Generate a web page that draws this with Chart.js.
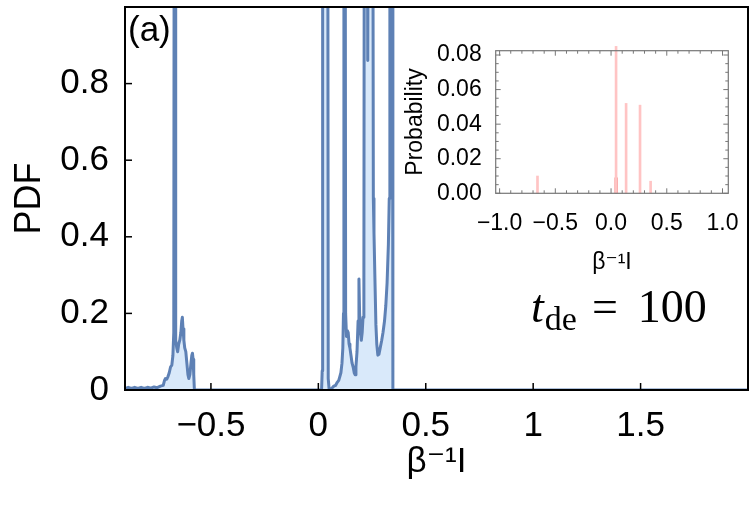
<!DOCTYPE html>
<html>
<head>
<meta charset="utf-8">
<script src="https://cdn.jsdelivr.net/npm/chart.js@4.4.1/dist/chart.umd.min.js"></script>
<style>
  html, body { margin:0; padding:0; background:#fff; }
  #wrap { position:relative; width:750px; height:521px; overflow:hidden; background:#fff; }
  #main { position:absolute; left:0; top:0; width:750px; height:521px; }
  #inset { position:absolute; left:400px; top:30px; width:345px; height:260px; }
  .txt { position:absolute; white-space:nowrap; color:#000; }
</style>
</head>
<body>
<div id="wrap">
  <div id="main"><canvas id="c1"></canvas></div>
  <div id="inset"><canvas id="c2"></canvas></div>
  <div class="txt" style="left:128px; top:11px; font:35px 'Liberation Sans', Arial, sans-serif; line-height:35px;">(a)</div>
  <div class="txt" style="left:531px; top:284px; font:46px 'Liberation Serif', 'Times New Roman', serif; line-height:46px;"><i>t</i><span style="font-size:34px; position:relative; top:8px; margin-left:1px;">de</span><span style="margin-left:15px;">=</span><span style="margin-left:20px;">100</span></div>
</div>
<script>
// ---------- main PDF curve ----------
const pdfX = [
  -0.900, -0.885, -0.870, -0.855, -0.840, -0.825, -0.810, -0.795, -0.780, -0.765, -0.750, -0.735,
  -0.722, -0.716, -0.712, -0.706, -0.700, -0.694, -0.688, -0.682, -0.677, -0.673, -0.670, -0.667,
  -0.664, -0.659, -0.655, -0.650, -0.645, -0.640, -0.636, -0.633, -0.630, -0.626, -0.622, -0.617,
  -0.612, -0.607, -0.603, -0.598, -0.593, -0.589, -0.586, -0.583, -0.580, -0.577,
  -0.500, -0.300, 0.000, 0.015,
  0.018, 0.020, 0.043, 0.046, 0.050, 0.058, 0.065, 0.072, 0.080, 0.088, 0.095, 0.100, 0.105, 0.110,
  0.114, 0.117, 0.119, 0.124, 0.127, 0.131, 0.135, 0.139, 0.143, 0.147, 0.152, 0.157, 0.162, 0.167,
  0.171, 0.175, 0.180, 0.185, 0.189, 0.192, 0.196, 0.200, 0.204, 0.208, 0.212, 0.215, 0.226, 0.230,
  0.234, 0.252, 0.256, 0.259, 0.263, 0.268, 0.272, 0.277, 0.282, 0.288, 0.295, 0.301, 0.308, 0.314,
  0.320, 0.326, 0.330, 0.333, 0.344, 0.347,
  0.600, 1.000, 1.500, 2.000
];
const pdfY = [
  0.004, 0.007, 0.004, 0.007, 0.004, 0.007, 0.004, 0.007, 0.005, 0.008, 0.006, 0.010,
  0.012, 0.025, 0.030, 0.028, 0.035, 0.045, 0.060, 0.065, 0.090, 0.150, 2.000, 2.000,
  0.130, 0.110, 0.100, 0.120, 0.130, 0.150, 0.180, 0.190, 0.160, 0.130, 0.110, 0.100,
  0.070, 0.040, 0.030, 0.040, 0.070, 0.090, 0.096, 0.080, 0.040, 0.000,
  0.000, 0.000, 0.000, 0.000,
  0.050, 2.000, 2.000, 0.030, 0.003, 0.002, 0.006, 0.010, 0.012, 0.020, 0.025, 0.035, 0.045, 0.070,
  0.110, 0.200, 2.000, 2.000, 0.200, 0.140, 0.155, 0.150, 0.120, 0.110, 0.090, 0.070, 0.060, 0.045,
  0.040, 0.060, 0.100, 0.180, 0.290, 0.200, 0.150, 0.130, 0.150, 0.190, 0.300, 2.000, 2.000, 0.860,
  2.000, 2.000, 0.500, 0.410, 0.300, 0.170, 0.120, 0.091, 0.093, 0.110, 0.130, 0.150, 0.180, 0.220,
  0.280, 0.380, 0.500, 2.000, 2.000, 0.000,
  0.000, 0.000, 0.000, 0.000
];
const xTickVals = [-0.5, 0, 0.5, 1, 1.5];
const xTickLabels = ['\u22120.5', '0', '0.5', '1', '1.5'];
const yTickVals = [0, 0.2, 0.4, 0.6, 0.8];
const yTickLabels = ['0', '0.2', '0.4', '0.6', '0.8'];

// ---------- inset probability histogram ----------
const probX = [-0.66, 0.045, 0.135, 0.26, 0.355];
const probY = [0.010, 0.085, 0.052, 0.051, 0.007];
const probDarkX = [0.045];
const probDarkY = [0.009];
const insetXTickVals = [-1, -0.5, 0, 0.5, 1];
const insetXTickLabels = ['\u22121.0', '\u22120.5', '0.0', '0.5', '1.0'];
const insetYTickVals = [0, 0.02, 0.04, 0.06, 0.08];
const insetYTickLabels = ['0.00', '0.02', '0.04', '0.06', '0.08'];

const frameTicks = {
  id: 'frameTicks',
  afterDatasetsDraw(chart, args, o) {
    const { ctx, chartArea: a } = chart;
    const sx = chart.scales.x, sy = chart.scales.y;
    ctx.save();
    ctx.strokeStyle = o.color;
    ctx.lineCap = 'butt';
    const seg = (x1, y1, x2, y2) => { ctx.beginPath(); ctx.moveTo(x1, y1); ctx.lineTo(x2, y2); ctx.stroke(); };
    const drawX = (vals, len) => vals.forEach(v => {
      const px = sx.getPixelForValue(v);
      if (px < a.left - 0.5 || px > a.right + 0.5) return;
      seg(px, a.bottom, px, a.bottom - len);
      if (o.mirror) seg(px, a.top, px, a.top + len);
    });
    const drawY = (vals, len) => vals.forEach(v => {
      const py = sy.getPixelForValue(v);
      if (py < a.top - 0.5 || py > a.bottom + 0.5) return;
      seg(a.left, py, a.left + len, py);
      if (o.mirror) seg(a.right, py, a.right - len, py);
    });
    ctx.lineWidth = o.tickWidth;
    drawX(o.xMajor, o.major);
    drawY(o.yMajor, o.major);
    if (o.xMinor) drawX(o.xMinor, o.minor);
    if (o.yMinor) drawY(o.yMinor, o.minor);
    ctx.lineWidth = o.frameWidth;
    ctx.strokeRect(a.left, a.top, a.right - a.left, a.bottom - a.top);
    ctx.restore();
  }
};

const sans = "'Liberation Sans', Arial, 'DejaVu Sans', sans-serif";
const noPad = s => { s.paddingTop = 0; s.paddingBottom = 0; s.paddingLeft = 0; s.paddingRight = 0; };

new Chart(document.getElementById('c1'), {
  type: 'line',
  data: {
    datasets: [{
      data: pdfX.map((x, i) => ({ x: x, y: pdfY[i] })),
      borderColor: 'rgb(94,129,181)',
      backgroundColor: 'rgb(217,233,250)',
      borderWidth: 3,
      borderJoinStyle: 'round',
      pointRadius: 0,
      tension: 0,
      fill: 'origin'
    }]
  },
  plugins: [frameTicks],
  options: {
    responsive: true,
    maintainAspectRatio: false,
    animation: false,
    devicePixelRatio: 1,
    layout: { padding: { top: 7, right: 2, left: 0, bottom: 0 } },
    plugins: {
      legend: { display: false },
      tooltip: { enabled: false },
      frameTicks: {
        color: '#000', tickWidth: 1.5, frameWidth: 2, major: 7, minor: 4, mirror: false,
        xMajor: xTickVals, yMajor: yTickVals
      }
    },
    scales: {
      x: {
        type: 'linear', min: -0.9, max: 2.0,
        afterBuildTicks: s => { s.ticks = xTickVals.map(v => ({ value: v })); },
        afterFit: s => { s.height = 131; noPad(s); },
        grid: { display: false },
        border: { display: false },
        ticks: {
          padding: 7, color: '#000', maxRotation: 0, autoSkip: false,
          font: { family: sans, size: 35 },
          callback: (v, i) => xTickLabels[i]
        },
        title: {
          display: true, text: '\u03b2\u207b\u00b9I', color: '#000',
          font: { family: sans, size: 35 }, padding: { top: 0, bottom: 38 }
        }
      },
      y: {
        type: 'linear', min: 0, max: 1.0,
        afterBuildTicks: s => { s.ticks = yTickVals.map(v => ({ value: v })); },
        afterFit: s => { s.width = 125; noPad(s); },
        grid: { display: false },
        border: { display: false },
        ticks: {
          padding: 8, color: '#000', autoSkip: false,
          font: { family: sans, size: 35 },
          callback: (v, i) => yTickLabels[i]
        },
        title: {
          display: true, text: 'PDF', color: '#000',
          font: { family: sans, size: 36 }, padding: { top: 8, bottom: 0 }
        }
      }
    }
  }
});

const minorX = [];
for (let k = -10; k <= 10; k++) { if (k % 5 !== 0) minorX.push(k / 10); }
const minorY = [];
for (let k = 0; k <= 16; k++) { if (k % 4 !== 0) minorY.push(k * 0.005); }

new Chart(document.getElementById('c2'), {
  type: 'bar',
  data: {
    datasets: [{
      data: probX.map((x, i) => ({ x: x, y: probY[i] })),
      backgroundColor: 'rgb(255,196,196)',
      borderWidth: 0,
      barThickness: 2,
      grouped: false,
      clip: false
    }, {
      data: probDarkX.map((x, i) => ({ x: x, y: probDarkY[i] })),
      backgroundColor: 'rgb(235,20,20)',
      borderWidth: 0,
      barThickness: 2,
      grouped: false
    }]
  },
  plugins: [frameTicks],
  options: {
    responsive: true,
    maintainAspectRatio: false,
    animation: false,
    devicePixelRatio: 1,
    layout: { padding: { top: 20.7, right: 16.7, left: 0, bottom: 0 } },
    plugins: {
      legend: { display: false },
      tooltip: { enabled: false },
      frameTicks: {
        color: '#777', tickWidth: 1, frameWidth: 1.2, major: 5, minor: 3, mirror: true,
        xMajor: insetXTickVals, yMajor: insetYTickVals, xMinor: minorX, yMinor: minorY
      }
    },
    scales: {
      x: {
        type: 'linear', min: -1.035, max: 1.052, offset: false,
        afterBuildTicks: s => { s.ticks = insetXTickVals.map(v => ({ value: v })); },
        afterFit: s => { s.height = 96.7; noPad(s); },
        grid: { display: false, offset: false },
        border: { display: false },
        ticks: {
          padding: 9, color: '#000', maxRotation: 0, autoSkip: false,
          font: { family: sans, size: 23 },
          callback: (v, i) => insetXTickLabels[i]
        },
        title: {
          display: true, text: '\u03b2\u207b\u00b9I', color: '#000',
          font: { family: sans, size: 23 }, padding: { top: 0, bottom: 14 }
        }
      },
      y: {
        type: 'linear', min: 0, max: 0.0825,
        afterBuildTicks: s => { s.ticks = insetYTickVals.map(v => ({ value: v })); },
        afterFit: s => { s.width = 95.7; noPad(s); },
        grid: { display: false },
        border: { display: false },
        ticks: {
          padding: 6, color: '#000', autoSkip: false,
          font: { family: sans, size: 23 },
          callback: (v, i) => insetYTickLabels[i]
        },
        title: {
          display: true, text: 'Probability', color: '#000',
          font: { family: sans, size: 23 }, padding: { top: 2, bottom: 0 }
        }
      }
    }
  }
});
</script>
</body>
</html>
